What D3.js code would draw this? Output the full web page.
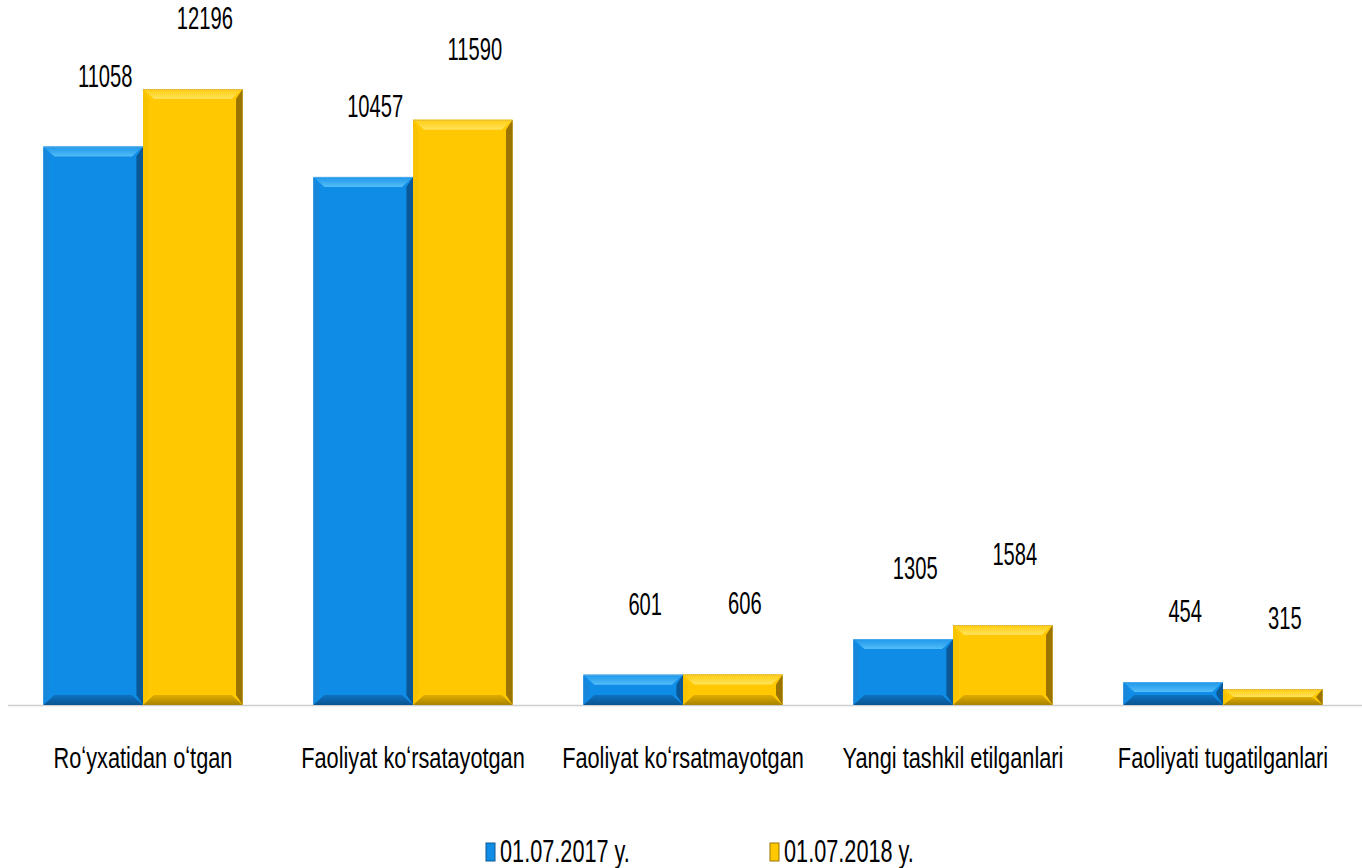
<!DOCTYPE html>
<html>
<head>
<meta charset="utf-8">
<script src="https://cdn.jsdelivr.net/npm/d3@7"></script>
<style>
  body { margin: 0; background: #fff; }
  svg text { font-family: "Liberation Sans", Arial, sans-serif; fill: #000; }
</style>
</head>
<body>
<svg id="chart" width="1362" height="868"></svg>
<script>
var categories = ["Ro\u02bbyxatidan o\u02bbtgan", "Faoliyat ko\u02bbrsatayotgan", "Faoliyat ko\u02bbrsatmayotgan", "Yangi tashkil etilganlari", "Faoliyati tugatilganlari"];
var seriesNames = ["01.07.2017 y.", "01.07.2018 y."];
var values2017 = [11058, 10457, 601, 1305, 454];
var values2018 = [12196, 11590, 606, 1584, 315];

var width = 1362, height = 868;
var baseY = 705;
var svg = d3.select("#chart");
var defs = svg.append("defs");

var palette = [
  { id: "b", main: "#0f8ce6", topA: "#1e96ea", topB: "#52bdf8", left: "#1787dc", right: "#0a5896", botA: "#0d72c2", botB: "#0a5590", stroke: "#7fb8e8" },
  { id: "y", main: "#ffc800", topA: "#ffcc10", topB: "#ffe35a", left: "#f7c200", right: "#9a7400", botA: "#e0ad00", botB: "#a88200", stroke: "#c8a860" }
];

palette.forEach(function (c) {
  var gt = defs.append("linearGradient").attr("id", "top-" + c.id).attr("x1", 0).attr("y1", 0).attr("x2", 0).attr("y2", 1);
  gt.append("stop").attr("offset", "0%").attr("stop-color", c.topA);
  gt.append("stop").attr("offset", "100%").attr("stop-color", c.topB);
  var gb = defs.append("linearGradient").attr("id", "bot-" + c.id).attr("x1", 0).attr("y1", 0).attr("x2", 0).attr("y2", 1);
  gb.append("stop").attr("offset", "0%").attr("stop-color", c.botA);
  gb.append("stop").attr("offset", "100%").attr("stop-color", c.botB);
});

var x0 = d3.scaleBand().domain(d3.range(categories.length)).range([8, 1358]).paddingInner(0.262).paddingOuter(0.131);
var x1 = d3.scaleBand().domain([0, 1]).range([0, x0.bandwidth()]);
var y = d3.scaleLinear().domain([0, 13960]).range([baseY, 0]);

// baseline
svg.append("line")
  .attr("x1", 8).attr("x2", width).attr("y1", baseY + 0.5).attr("y2", baseY + 0.5)
  .attr("stroke", "#cfcfcf").attr("stroke-width", 1.5);

var data = [];
categories.forEach(function (c, i) {
  [values2017, values2018].forEach(function (vals, s) {
    data.push({ cat: i, s: s, v: vals[i] });
  });
});

function bevelBar(g, x, yTop, w, h, col) {
  var b = Math.min(10, h / 2, w / 2);
  var bs = Math.min(11, w / 2);
  function pts(arr) { return arr.map(function (p) { return p.join(","); }).join(" "); }
  g.append("rect").attr("x", x).attr("y", yTop).attr("width", w).attr("height", h).attr("fill", col.main);
  g.append("polygon").attr("points", pts([[x, yTop], [x + bs * 0.5, yTop + b], [x + bs * 0.5, yTop + h - b], [x, yTop + h]])).attr("fill", col.left);
  g.append("polygon").attr("points", pts([[x + w, yTop], [x + w - bs * 0.6, yTop + b], [x + w - bs * 0.6, yTop + h - b], [x + w, yTop + h]])).attr("fill", col.right);
  g.append("polygon").attr("points", pts([[x, yTop], [x + w, yTop], [x + w - bs, yTop + b], [x + bs, yTop + b]])).attr("fill", "url(#top-" + col.id + ")");
  g.append("polygon").attr("points", pts([[x, yTop + h], [x + w, yTop + h], [x + w - bs, yTop + h - b], [x + bs, yTop + h - b]])).attr("fill", "url(#bot-" + col.id + ")");
  g.append("line").attr("x1", x).attr("x2", x + w).attr("y1", yTop + 0.5).attr("y2", yTop + 0.5)
    .attr("stroke", col.stroke).attr("stroke-width", 1).attr("stroke-dasharray", "1,1");
}

var bars = svg.append("g");
data.forEach(function (d) {
  var bx = x0(d.cat) + x1(d.s);
  var by = y(d.v);
  bevelBar(bars.append("g"), bx, by, x1.bandwidth(), baseY - by, palette[d.s]);
});

// condensed look: squeeze text horizontally around its anchor point
function narrow(sel, sx) {
  sel.attr("transform", function () {
    var p = this.__pos;
    return "translate(" + p[0] + "," + p[1] + ") scale(" + sx + ",1)";
  });
}

// value labels
svg.append("g").selectAll("text").data(data).enter().append("text")
  .each(function (d) { this.__pos = [x0(d.cat) + x1(d.s) + x1.bandwidth() / 2 + 12, y(d.v) - 60]; })
  .attr("text-anchor", "middle")
  .style("font-size", "32px")
  .text(function (d) { return d.v; })
  .call(narrow, 0.63);

// category labels
svg.append("g").selectAll("text").data(categories).enter().append("text")
  .each(function (d, i) { this.__pos = [x0(i) + x0.bandwidth() / 2, 768]; })
  .attr("text-anchor", "middle")
  .style("font-size", "29px")
  .text(function (d) { return d; })
  .call(narrow, 0.75);

// legend
var legendX = [486, 770];
var legend = svg.append("g").selectAll("g").data(seriesNames).enter().append("g")
  .attr("transform", function (d, i) { return "translate(" + legendX[i] + ",843)"; });
legend.append("rect").attr("width", 9).attr("height", 18)
  .attr("fill", function (d, i) { return palette[i].main; })
  .attr("stroke", function (d, i) { return palette[i].right; });
legend.append("text")
  .each(function () { this.__pos = [14, 19]; })
  .style("font-size", "31px")
  .text(function (d) { return d; })
  .call(narrow, 0.7);
</script>
</body>
</html>
